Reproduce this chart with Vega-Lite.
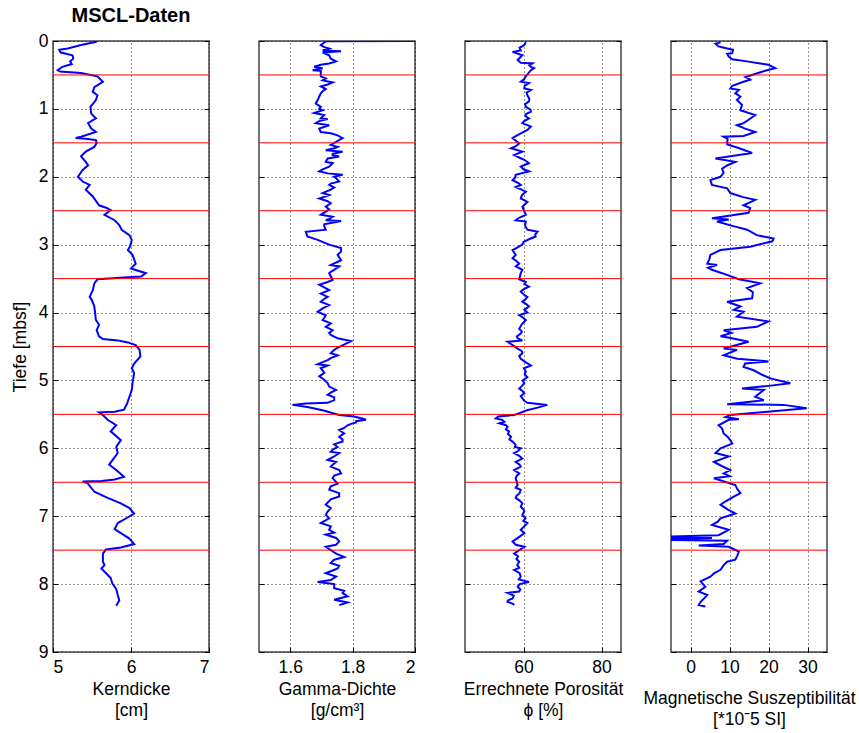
{
  "$schema": "https://vega.github.io/schema/vega-lite/v6.json",
  "padding": {"left": 10, "top": 5, "right": 0, "bottom": 5},
  "bounds": "flush",
  "spacing": 50,
  "background": "white",
  "config": {
    "font": "Liberation Sans",
    "axis": {"labelFont": "Liberation Sans", "titleFont": "Liberation Sans", "labelFontSize": 17.5, "titleFontSize": 17.5, "labelColor": "#000", "titleColor": "#000", "titleFontWeight": "normal", "domain": false, "gridColor": "#000", "gridDash": [1, 3], "gridOpacity": 0.85, "gridWidth": 1, "ticks": true, "tickSize": -5, "tickColor": "#000", "tickWidth": 1},
    "view": {"stroke": "#444", "strokeWidth": 1.5}
  },
  "datasets": {
    "H": [{"d": 0.5}, {"d": 1.5}, {"d": 2.5}, {"d": 3.5}, {"d": 4.5}, {"d": 5.5}, {"d": 6.5}, {"d": 7.5}],
    "K": [
      {"d":0.01,"v":5.56},{"d":0.06,"v":5.36},{"d":0.11,"v":5.19},{"d":0.13,"v":5.08},{"d":0.17,"v":5.10},{"d":0.21,"v":5.25},{"d":0.26,"v":5.26},{"d":0.30,"v":5.22},{"d":0.34,"v":5.24},{"d":0.38,"v":5.12},{"d":0.43,"v":5.06},{"d":0.45,"v":5.09},{"d":0.47,"v":5.36},{"d":0.52,"v":5.57},{"d":0.60,"v":5.64},{"d":0.68,"v":5.53},{"d":0.75,"v":5.51},{"d":0.80,"v":5.57},{"d":0.87,"v":5.55},{"d":0.97,"v":5.48},{"d":1.07,"v":5.49},{"d":1.14,"v":5.55},{"d":1.21,"v":5.45},{"d":1.29,"v":5.49},{"d":1.34,"v":5.55},{"d":1.41,"v":5.36},{"d":1.43,"v":5.29},{"d":1.44,"v":5.42},{"d":1.46,"v":5.55},{"d":1.50,"v":5.56},{"d":1.56,"v":5.53},{"d":1.63,"v":5.42},{"d":1.70,"v":5.36},{"d":1.78,"v":5.42},{"d":1.83,"v":5.45},{"d":1.90,"v":5.38},{"d":2.00,"v":5.32},{"d":2.07,"v":5.38},{"d":2.12,"v":5.47},{"d":2.19,"v":5.42},{"d":2.29,"v":5.51},{"d":2.42,"v":5.59},{"d":2.46,"v":5.69},{"d":2.49,"v":5.74},{"d":2.56,"v":5.66},{"d":2.64,"v":5.79},{"d":2.71,"v":5.85},{"d":2.78,"v":5.88},{"d":2.86,"v":5.98},{"d":2.93,"v":6.01},{"d":3.02,"v":5.99},{"d":3.08,"v":5.96},{"d":3.15,"v":6.02},{"d":3.28,"v":6.06},{"d":3.35,"v":6.00},{"d":3.42,"v":6.19},{"d":3.47,"v":6.13},{"d":3.48,"v":5.96},{"d":3.51,"v":5.57},{"d":3.57,"v":5.53},{"d":3.67,"v":5.51},{"d":3.77,"v":5.47},{"d":3.82,"v":5.50},{"d":3.91,"v":5.53},{"d":4.01,"v":5.54},{"d":4.11,"v":5.55},{"d":4.18,"v":5.59},{"d":4.26,"v":5.56},{"d":4.35,"v":5.59},{"d":4.39,"v":5.64},{"d":4.41,"v":5.83},{"d":4.44,"v":5.96},{"d":4.48,"v":6.06},{"d":4.55,"v":6.11},{"d":4.65,"v":6.12},{"d":4.75,"v":6.04},{"d":4.82,"v":6.01},{"d":4.89,"v":6.04},{"d":5.04,"v":6.02},{"d":5.14,"v":6.01},{"d":5.24,"v":5.98},{"d":5.34,"v":5.95},{"d":5.43,"v":5.91},{"d":5.46,"v":5.79},{"d":5.47,"v":5.59},{"d":5.51,"v":5.64},{"d":5.58,"v":5.70},{"d":5.66,"v":5.81},{"d":5.75,"v":5.74},{"d":5.88,"v":5.87},{"d":5.98,"v":5.81},{"d":6.07,"v":5.83},{"d":6.24,"v":5.72},{"d":6.32,"v":5.81},{"d":6.42,"v":5.91},{"d":6.46,"v":5.79},{"d":6.48,"v":5.62},{"d":6.49,"v":5.38},{"d":6.51,"v":5.44},{"d":6.64,"v":5.53},{"d":6.73,"v":5.70},{"d":6.81,"v":5.87},{"d":6.88,"v":5.98},{"d":6.96,"v":6.04},{"d":7.03,"v":5.94},{"d":7.10,"v":5.83},{"d":7.19,"v":5.79},{"d":7.25,"v":5.87},{"d":7.33,"v":5.98},{"d":7.41,"v":6.04},{"d":7.46,"v":5.87},{"d":7.49,"v":5.68},{"d":7.55,"v":5.64},{"d":7.67,"v":5.64},{"d":7.72,"v":5.66},{"d":7.77,"v":5.62},{"d":7.84,"v":5.68},{"d":7.91,"v":5.74},{"d":7.99,"v":5.76},{"d":8.07,"v":5.81},{"d":8.16,"v":5.83},{"d":8.24,"v":5.85},{"d":8.32,"v":5.81}
    ],
    "G": [
      {"d":0.00,"v":2.0},{"d":0.005,"v":1.714},{"d":0.06,"v":1.698},{"d":0.09,"v":1.709},{"d":0.11,"v":1.725},{"d":0.14,"v":1.704},{"d":0.15,"v":1.763},{"d":0.17,"v":1.704},{"d":0.21,"v":1.725},{"d":0.26,"v":1.730},{"d":0.30,"v":1.747},{"d":0.33,"v":1.725},{"d":0.35,"v":1.698},{"d":0.38,"v":1.677},{"d":0.40,"v":1.704},{"d":0.43,"v":1.672},{"d":0.44,"v":1.698},
      {"d":0.52,"v":1.698},{"d":0.55,"v":1.714},{"d":0.58,"v":1.704},{"d":0.61,"v":1.736},{"d":0.64,"v":1.720},{"d":0.67,"v":1.698},{"d":0.71,"v":1.714},{"d":0.74,"v":1.704},{"d":0.77,"v":1.698},{"d":0.82,"v":1.693},{"d":0.87,"v":1.688},{"d":0.92,"v":1.682},{"d":0.97,"v":1.698},{"d":1.00,"v":1.693},{"d":1.02,"v":1.704},{"d":1.06,"v":1.677},{"d":1.09,"v":1.709},{"d":1.14,"v":1.698},{"d":1.15,"v":1.720},{"d":1.18,"v":1.693},{"d":1.21,"v":1.682},{"d":1.24,"v":1.725},{"d":1.29,"v":1.693},{"d":1.34,"v":1.698},{"d":1.36,"v":1.730},{"d":1.39,"v":1.752},{"d":1.42,"v":1.763},{"d":1.43,"v":1.768},
      {"d":1.53,"v":1.730},{"d":1.56,"v":1.752},{"d":1.58,"v":1.741},{"d":1.61,"v":1.714},{"d":1.63,"v":1.768},{"d":1.66,"v":1.736},{"d":1.68,"v":1.736},{"d":1.70,"v":1.757},{"d":1.73,"v":1.720},{"d":1.78,"v":1.714},{"d":1.80,"v":1.736},{"d":1.85,"v":1.725},{"d":1.89,"v":1.704},{"d":1.92,"v":1.693},{"d":1.95,"v":1.720},{"d":1.97,"v":1.768},{"d":2.00,"v":1.741},{"d":2.02,"v":1.747},{"d":2.07,"v":1.757},{"d":2.10,"v":1.730},{"d":2.12,"v":1.725},{"d":2.16,"v":1.741},{"d":2.19,"v":1.730},{"d":2.24,"v":1.704},{"d":2.27,"v":1.725},{"d":2.32,"v":1.693},{"d":2.36,"v":1.720},{"d":2.39,"v":1.730},{"d":2.44,"v":1.714},{"d":2.48,"v":1.725},
      {"d":2.56,"v":1.698},{"d":2.59,"v":1.736},{"d":2.62,"v":1.725},{"d":2.64,"v":1.714},{"d":2.65,"v":1.763},{"d":2.70,"v":1.709},{"d":2.73,"v":1.709},{"d":2.78,"v":1.714},{"d":2.81,"v":1.650},{"d":2.88,"v":1.655},{"d":2.93,"v":1.688},{"d":3.00,"v":1.725},{"d":3.05,"v":1.763},{"d":3.10,"v":1.763},{"d":3.15,"v":1.752},{"d":3.23,"v":1.763},{"d":3.30,"v":1.730},{"d":3.32,"v":1.757},{"d":3.37,"v":1.741},{"d":3.40,"v":1.730},{"d":3.42,"v":1.725},
      {"d":3.52,"v":1.736},{"d":3.55,"v":1.720},{"d":3.59,"v":1.693},{"d":3.63,"v":1.709},{"d":3.67,"v":1.725},{"d":3.72,"v":1.698},{"d":3.77,"v":1.720},{"d":3.80,"v":1.709},{"d":3.84,"v":1.698},{"d":3.89,"v":1.725},{"d":3.94,"v":1.704},{"d":3.99,"v":1.688},{"d":4.04,"v":1.714},{"d":4.08,"v":1.709},{"d":4.11,"v":1.704},{"d":4.16,"v":1.730},{"d":4.21,"v":1.714},{"d":4.26,"v":1.736},{"d":4.30,"v":1.725},{"d":4.33,"v":1.730},{"d":4.38,"v":1.752},{"d":4.42,"v":1.795},
      {"d":4.53,"v":1.747},{"d":4.57,"v":1.736},{"d":4.60,"v":1.730},{"d":4.63,"v":1.752},{"d":4.67,"v":1.730},{"d":4.70,"v":1.720},{"d":4.76,"v":1.688},{"d":4.78,"v":1.720},{"d":4.82,"v":1.698},{"d":4.85,"v":1.704},{"d":4.89,"v":1.709},{"d":4.94,"v":1.693},{"d":4.99,"v":1.709},{"d":5.04,"v":1.720},{"d":5.09,"v":1.725},{"d":5.14,"v":1.747},{"d":5.18,"v":1.730},{"d":5.21,"v":1.720},{"d":5.25,"v":1.741},{"d":5.29,"v":1.741},{"d":5.33,"v":1.720},{"d":5.34,"v":1.650},{"d":5.36,"v":1.607},{"d":5.39,"v":1.655},{"d":5.44,"v":1.704},
      {"d":5.51,"v":1.757},{"d":5.53,"v":1.805},{"d":5.56,"v":1.830},{"d":5.58,"v":1.843},{"d":5.60,"v":1.811},{"d":5.62,"v":1.811},{"d":5.64,"v":1.795},{"d":5.66,"v":1.784},{"d":5.70,"v":1.773},{"d":5.73,"v":1.757},{"d":5.78,"v":1.773},{"d":5.83,"v":1.757},{"d":5.87,"v":1.768},{"d":5.90,"v":1.768},{"d":5.94,"v":1.741},{"d":5.98,"v":1.752},{"d":6.02,"v":1.736},{"d":6.05,"v":1.730},{"d":6.07,"v":1.757},{"d":6.12,"v":1.741},{"d":6.17,"v":1.720},{"d":6.20,"v":1.747},{"d":6.24,"v":1.736},{"d":6.27,"v":1.730},{"d":6.32,"v":1.757},{"d":6.37,"v":1.763},{"d":6.40,"v":1.741},{"d":6.44,"v":1.736},
      {"d":6.52,"v":1.752},{"d":6.56,"v":1.730},{"d":6.61,"v":1.725},{"d":6.66,"v":1.757},{"d":6.71,"v":1.757},{"d":6.75,"v":1.730},{"d":6.80,"v":1.720},{"d":6.83,"v":1.714},{"d":6.88,"v":1.730},{"d":6.93,"v":1.720},{"d":6.98,"v":1.714},{"d":7.03,"v":1.725},{"d":7.10,"v":1.698},{"d":7.15,"v":1.730},{"d":7.20,"v":1.725},{"d":7.24,"v":1.741},{"d":7.27,"v":1.714},{"d":7.32,"v":1.747},{"d":7.37,"v":1.757},{"d":7.42,"v":1.747},{"d":7.45,"v":1.714},
      {"d":7.55,"v":1.747},{"d":7.60,"v":1.773},{"d":7.64,"v":1.741},{"d":7.69,"v":1.730},{"d":7.73,"v":1.757},{"d":7.77,"v":1.752},{"d":7.80,"v":1.736},{"d":7.84,"v":1.714},{"d":7.89,"v":1.747},{"d":7.94,"v":1.730},{"d":7.97,"v":1.688},{"d":8.00,"v":1.741},{"d":8.06,"v":1.741},{"d":8.10,"v":1.773},{"d":8.13,"v":1.768},{"d":8.18,"v":1.784},{"d":8.23,"v":1.741},{"d":8.27,"v":1.784},{"d":8.31,"v":1.757}
    ],
    "P": [
      {"d":0.02,"v":60.6},{"d":0.06,"v":60.2},{"d":0.10,"v":59.0},{"d":0.14,"v":59.3},{"d":0.16,"v":57.2},{"d":0.21,"v":59.7},{"d":0.25,"v":59.0},{"d":0.28,"v":58.5},{"d":0.32,"v":59.3},{"d":0.33,"v":62.3},{"d":0.36,"v":61.5},{"d":0.38,"v":61.9},{"d":0.40,"v":62.7},{"d":0.43,"v":61.9},
      {"d":0.52,"v":60.6},{"d":0.56,"v":60.2},{"d":0.60,"v":59.3},{"d":0.62,"v":61.4},{"d":0.66,"v":60.3},{"d":0.70,"v":60.2},{"d":0.72,"v":61.9},{"d":0.76,"v":60.8},{"d":0.80,"v":61.0},{"d":0.85,"v":61.5},{"d":0.89,"v":61.4},{"d":0.93,"v":60.4},{"d":0.97,"v":60.6},{"d":1.01,"v":61.8},{"d":1.04,"v":61.9},{"d":1.08,"v":60.5},{"d":1.11,"v":60.6},{"d":1.14,"v":61.4},{"d":1.18,"v":60.2},{"d":1.21,"v":59.7},{"d":1.26,"v":61.9},{"d":1.31,"v":61.0},{"d":1.36,"v":59.3},{"d":1.40,"v":58.0},{"d":1.43,"v":57.2},
      {"d":1.51,"v":58.9},{"d":1.55,"v":58.0},{"d":1.58,"v":56.8},{"d":1.63,"v":59.7},{"d":1.68,"v":57.6},{"d":1.72,"v":59.0},{"d":1.75,"v":60.2},{"d":1.80,"v":61.4},{"d":1.85,"v":59.3},{"d":1.89,"v":60.0},{"d":1.92,"v":61.4},{"d":1.97,"v":58.0},{"d":2.01,"v":57.9},{"d":2.05,"v":57.2},{"d":2.09,"v":58.6},{"d":2.12,"v":59.3},{"d":2.15,"v":58.0},{"d":2.19,"v":59.5},{"d":2.22,"v":60.6},{"d":2.27,"v":59.6},{"d":2.32,"v":59.3},{"d":2.37,"v":61.0},{"d":2.44,"v":59.7},
      {"d":2.56,"v":60.6},{"d":2.60,"v":59.0},{"d":2.64,"v":58.0},{"d":2.66,"v":60.6},{"d":2.72,"v":60.4},{"d":2.78,"v":61.0},{"d":2.81,"v":63.6},{"d":2.85,"v":63.0},{"d":2.88,"v":63.1},{"d":2.92,"v":61.4},{"d":2.96,"v":60.0},{"d":3.00,"v":59.7},{"d":3.04,"v":58.5},{"d":3.08,"v":57.2},{"d":3.15,"v":58.0},{"d":3.20,"v":57.2},{"d":3.24,"v":58.2},{"d":3.28,"v":58.9},{"d":3.32,"v":58.0},{"d":3.37,"v":59.7},{"d":3.42,"v":59.3},
      {"d":3.51,"v":58.9},{"d":3.55,"v":60.6},{"d":3.58,"v":60.2},{"d":3.62,"v":61.4},{"d":3.66,"v":60.0},{"d":3.69,"v":59.3},{"d":3.73,"v":60.0},{"d":3.77,"v":61.0},{"d":3.81,"v":60.4},{"d":3.84,"v":59.7},{"d":3.88,"v":60.8},{"d":3.91,"v":61.4},{"d":3.96,"v":60.2},{"d":4.00,"v":61.0},{"d":4.04,"v":58.9},{"d":4.08,"v":60.0},{"d":4.11,"v":60.6},{"d":4.17,"v":59.6},{"d":4.24,"v":58.9},{"d":4.28,"v":59.6},{"d":4.31,"v":59.3},{"d":4.35,"v":58.3},{"d":4.38,"v":58.5},{"d":4.41,"v":59.7},{"d":4.43,"v":55.9},
      {"d":4.53,"v":58.5},{"d":4.57,"v":59.6},{"d":4.60,"v":59.7},{"d":4.64,"v":58.9},{"d":4.68,"v":59.3},{"d":4.73,"v":60.5},{"d":4.78,"v":61.9},{"d":4.82,"v":60.1},{"d":4.87,"v":60.6},{"d":4.91,"v":60.3},{"d":4.95,"v":61.0},{"d":5.00,"v":59.8},{"d":5.04,"v":60.2},{"d":5.08,"v":59.6},{"d":5.12,"v":58.9},{"d":5.16,"v":59.8},{"d":5.19,"v":60.2},{"d":5.23,"v":59.3},{"d":5.26,"v":59.7},{"d":5.30,"v":60.2},{"d":5.33,"v":61.0},{"d":5.36,"v":66.1},{"d":5.40,"v":63.6},{"d":5.44,"v":60.9},
      {"d":5.51,"v":57.6},{"d":5.53,"v":53.5},{"d":5.56,"v":52.9},{"d":5.58,"v":54.5},{"d":5.61,"v":55.1},{"d":5.63,"v":53.8},{"d":5.66,"v":55.5},{"d":5.68,"v":55.9},{"d":5.72,"v":55.5},{"d":5.75,"v":56.3},{"d":5.79,"v":56.0},{"d":5.83,"v":56.8},{"d":5.87,"v":56.4},{"d":5.90,"v":57.2},{"d":5.95,"v":58.0},{"d":5.98,"v":57.8},{"d":6.00,"v":59.3},{"d":6.04,"v":58.6},{"d":6.07,"v":57.6},{"d":6.11,"v":58.9},{"d":6.15,"v":59.7},{"d":6.20,"v":58.0},{"d":6.24,"v":59.0},{"d":6.27,"v":59.3},{"d":6.32,"v":57.6},{"d":6.37,"v":58.9},{"d":6.41,"v":58.2},{"d":6.44,"v":58.0},
      {"d":6.54,"v":58.5},{"d":6.58,"v":58.0},{"d":6.61,"v":59.3},{"d":6.66,"v":59.0},{"d":6.70,"v":58.2},{"d":6.73,"v":58.0},{"d":6.77,"v":59.0},{"d":6.81,"v":59.7},{"d":6.86,"v":59.3},{"d":6.90,"v":60.0},{"d":6.93,"v":60.2},{"d":6.98,"v":59.7},{"d":7.03,"v":60.5},{"d":7.07,"v":60.0},{"d":7.10,"v":61.0},{"d":7.15,"v":60.2},{"d":7.20,"v":59.3},{"d":7.25,"v":60.2},{"d":7.30,"v":59.0},{"d":7.34,"v":58.0},{"d":7.37,"v":57.2},{"d":7.42,"v":58.0},{"d":7.45,"v":60.2},
      {"d":7.55,"v":57.6},{"d":7.59,"v":58.6},{"d":7.63,"v":58.2},{"d":7.67,"v":58.9},{"d":7.72,"v":58.4},{"d":7.76,"v":58.9},{"d":7.79,"v":57.6},{"d":7.84,"v":59.0},{"d":7.89,"v":59.3},{"d":7.93,"v":58.8},{"d":7.97,"v":61.4},{"d":8.00,"v":59.0},{"d":8.04,"v":58.5},{"d":8.08,"v":59.2},{"d":8.11,"v":58.9},{"d":8.13,"v":55.9},{"d":8.17,"v":57.5},{"d":8.21,"v":57.2},{"d":8.24,"v":56.0},{"d":8.26,"v":55.9},{"d":8.29,"v":57.3},{"d":8.31,"v":57.6}
    ],
    "M": [
      {"d":0.02,"v":7.7},{"d":0.04,"v":6.4},{"d":0.08,"v":7.2},{"d":0.11,"v":9.4},{"d":0.13,"v":10.9},{"d":0.18,"v":10.7},{"d":0.19,"v":9.4},{"d":0.23,"v":9.8},{"d":0.27,"v":10.7},{"d":0.30,"v":14.5},{"d":0.33,"v":17.9},{"d":0.35,"v":20.0},{"d":0.40,"v":21.7},{"d":0.43,"v":19.6},
      {"d":0.53,"v":14.1},{"d":0.57,"v":15.3},{"d":0.60,"v":13.6},{"d":0.66,"v":10.7},{"d":0.70,"v":10.2},{"d":0.72,"v":12.4},{"d":0.77,"v":11.5},{"d":0.82,"v":12.8},{"d":0.87,"v":11.9},{"d":0.94,"v":13.2},{"d":1.02,"v":12.8},{"d":1.09,"v":16.6},{"d":1.16,"v":14.9},{"d":1.21,"v":13.6},{"d":1.24,"v":11.9},{"d":1.29,"v":14.0},{"d":1.34,"v":16.6},{"d":1.40,"v":13.6},{"d":1.41,"v":8.5},{"d":1.44,"v":9.5},
      {"d":1.52,"v":9.4},{"d":1.58,"v":12.5},{"d":1.65,"v":15.8},{"d":1.73,"v":6.4},{"d":1.78,"v":11.5},{"d":1.83,"v":9.5},{"d":1.88,"v":8.1},{"d":1.94,"v":8.5},{"d":2.00,"v":7.7},{"d":2.05,"v":5.1},{"d":2.12,"v":5.5},{"d":2.17,"v":9.4},{"d":2.24,"v":10.2},{"d":2.30,"v":13.5},{"d":2.34,"v":16.6},{"d":2.42,"v":13.6},{"d":2.46,"v":15.3},
      {"d":2.53,"v":14.9},{"d":2.58,"v":9.0},{"d":2.61,"v":5.5},{"d":2.63,"v":9.8},{"d":2.66,"v":6.8},{"d":2.72,"v":10.5},{"d":2.78,"v":14.5},{"d":2.86,"v":17.0},{"d":2.91,"v":21.3},{"d":2.95,"v":21.0},{"d":3.03,"v":15.3},{"d":3.08,"v":7.7},{"d":3.15,"v":5.1},{"d":3.22,"v":4.8},{"d":3.28,"v":4.3},{"d":3.30,"v":6.8},{"d":3.34,"v":4.5},{"d":3.37,"v":5.5},{"d":3.42,"v":8.1},
      {"d":3.51,"v":12.4},{"d":3.57,"v":17.9},{"d":3.64,"v":14.5},{"d":3.70,"v":16.0},{"d":3.79,"v":15.8},{"d":3.84,"v":9.4},{"d":3.91,"v":12.8},{"d":3.96,"v":11.1},{"d":3.99,"v":13.6},{"d":4.06,"v":11.9},{"d":4.13,"v":20.0},{"d":4.21,"v":17.0},{"d":4.26,"v":8.5},{"d":4.30,"v":10.5},{"d":4.35,"v":7.7},{"d":4.37,"v":10.0},{"d":4.43,"v":14.9},
      {"d":4.53,"v":8.5},{"d":4.55,"v":11.9},{"d":4.63,"v":8.5},{"d":4.68,"v":12.0},{"d":4.72,"v":20.0},{"d":4.75,"v":14.0},{"d":4.80,"v":13.6},{"d":4.85,"v":16.2},{"d":4.92,"v":18.5},{"d":4.97,"v":20.5},{"d":5.04,"v":25.6},{"d":5.08,"v":20.0},{"d":5.12,"v":13.2},{"d":5.14,"v":18.8},{"d":5.20,"v":17.5},{"d":5.24,"v":16.6},{"d":5.29,"v":18.8},{"d":5.35,"v":9.4},{"d":5.36,"v":23.9},{"d":5.41,"v":29.8},
      {"d":5.51,"v":10.2},{"d":5.54,"v":9.0},{"d":5.57,"v":12.4},{"d":5.58,"v":9.8},{"d":5.66,"v":7.2},{"d":5.71,"v":8.1},{"d":5.78,"v":8.5},{"d":5.83,"v":9.5},{"d":5.88,"v":10.2},{"d":5.93,"v":10.7},{"d":6.00,"v":7.7},{"d":6.07,"v":6.4},{"d":6.12,"v":9.8},{"d":6.20,"v":6.0},{"d":6.26,"v":8.0},{"d":6.32,"v":10.2},{"d":6.37,"v":8.5},{"d":6.41,"v":10.0},{"d":6.44,"v":6.0},
      {"d":6.54,"v":11.5},{"d":6.60,"v":12.0},{"d":6.66,"v":12.8},{"d":6.71,"v":11.1},{"d":6.78,"v":9.0},{"d":6.83,"v":7.7},{"d":6.90,"v":9.5},{"d":6.96,"v":11.5},{"d":7.03,"v":7.7},{"d":7.08,"v":7.0},{"d":7.13,"v":5.5},{"d":7.20,"v":9.8},{"d":7.28,"v":7.2},{"d":7.30,"v":-5.0},{"d":7.31,"v":-5.0},{"d":7.32,"v":5.5},{"d":7.34,"v":-5.0},{"d":7.35,"v":-5.0},{"d":7.36,"v":9.4},{"d":7.41,"v":8.5},{"d":7.43,"v":2.1},{"d":7.45,"v":9.8},
      {"d":7.52,"v":12.4},{"d":7.58,"v":12.0},{"d":7.64,"v":11.5},{"d":7.67,"v":9.4},{"d":7.72,"v":8.5},{"d":7.79,"v":7.7},{"d":7.84,"v":6.0},{"d":7.89,"v":5.1},{"d":7.96,"v":2.6},{"d":8.04,"v":3.8},{"d":8.11,"v":2.1},{"d":8.16,"v":4.3},{"d":8.21,"v":3.5},{"d":8.26,"v":2.6},{"d":8.31,"v":2.1},{"d":8.33,"v":3.8}
    ]
  },
  "hconcat": [
    {
      "width": 156, "height": 611,
      "title": {"text": "MSCL-Daten", "fontSize": 20, "fontWeight": "bold", "font": "Liberation Sans", "offset": 6, "anchor": "middle", "color": "#000"},
      "resolve": {"axis": {"y": "independent"}},
      "layer": [
        {"data": {"name": "K"}, "mark": {"type": "line", "color": "#0000ff", "strokeWidth": 2, "clip": true},
         "encoding": {
           "x": {"field": "v", "type": "quantitative", "scale": {"domain": [5, 7], "nice": false, "zero": false},
                 "axis": {"values": [5, 6, 7], "labelExpr": "datum.value", "labelPadding": 11, "title": ["Kerndicke", "[cm]"], "titlePadding": 5, "titleLineHeight": 21}},
           "y": {"field": "d", "type": "quantitative", "scale": {"domain": [0, 9], "reverse": true, "nice": false, "zero": false},
                 "axis": {"values": [0,1,2,3,4,5,6,7,8,9], "labelExpr": "datum.value", "labelPadding": 10, "title": "Tiefe [mbsf]", "titlePadding": 9}},
           "order": {"field": "d"}}},
        {"data": {"name": "H"}, "mark": {"type": "rule", "color": "#ff0000", "strokeWidth": 1},
         "encoding": {"y": {"field": "d", "type": "quantitative", "axis": {"orient": "right", "values": [0,1,2,3,4,5,6,7,8,9], "labels": false, "grid": false, "title": null}}}}
      ]
    },
    {
      "width": 156, "height": 611,
      "resolve": {"axis": {"y": "independent"}},
      "layer": [
        {"data": {"name": "G"}, "mark": {"type": "line", "color": "#0000ff", "strokeWidth": 2, "clip": true},
         "encoding": {
           "x": {"field": "v", "type": "quantitative", "scale": {"domain": [1.5, 2], "nice": false, "zero": false},
                 "axis": {"values": [1.6, 1.8, 2], "labelExpr": "datum.value", "labelPadding": 11, "title": ["Gamma-Dichte", "[g/cm³]"], "titlePadding": 5, "titleLineHeight": 21}},
           "y": {"field": "d", "type": "quantitative", "scale": {"domain": [0, 9], "reverse": true, "nice": false, "zero": false},
                 "axis": {"values": [0,1,2,3,4,5,6,7,8,9], "labels": false, "title": null}},
           "order": {"field": "d"}}},
        {"data": {"name": "H"}, "mark": {"type": "rule", "color": "#ff0000", "strokeWidth": 1},
         "encoding": {"y": {"field": "d", "type": "quantitative", "axis": {"orient": "right", "values": [0,1,2,3,4,5,6,7,8,9], "labels": false, "grid": false, "title": null}}}}
      ]
    },
    {
      "width": 156, "height": 611,
      "resolve": {"axis": {"y": "independent"}},
      "layer": [
        {"data": {"name": "P"}, "mark": {"type": "line", "color": "#0000ff", "strokeWidth": 2, "clip": true},
         "encoding": {
           "x": {"field": "v", "type": "quantitative", "scale": {"domain": [45, 85], "nice": false, "zero": false},
                 "axis": {"values": [60, 80], "labelExpr": "datum.value", "labelPadding": 11, "title": ["Errechnete Porosität", "ϕ [%]"], "titlePadding": 5, "titleLineHeight": 21}},
           "y": {"field": "d", "type": "quantitative", "scale": {"domain": [0, 9], "reverse": true, "nice": false, "zero": false},
                 "axis": {"values": [0,1,2,3,4,5,6,7,8,9], "labels": false, "title": null}},
           "order": {"field": "d"}}},
        {"data": {"name": "H"}, "mark": {"type": "rule", "color": "#ff0000", "strokeWidth": 1},
         "encoding": {"y": {"field": "d", "type": "quantitative", "axis": {"orient": "right", "values": [0,1,2,3,4,5,6,7,8,9], "labels": false, "grid": false, "title": null}}}}
      ]
    },
    {
      "width": 156, "height": 611,
      "resolve": {"axis": {"y": "independent"}},
      "layer": [
        {"data": {"name": "M"}, "mark": {"type": "line", "color": "#0000ff", "strokeWidth": 2, "clip": true},
         "encoding": {
           "x": {"field": "v", "type": "quantitative", "scale": {"domain": [-5, 35], "nice": false, "zero": false},
                 "axis": {"values": [0, 10, 20, 30], "labelExpr": "datum.value", "labelPadding": 11, "title": ["Magnetische Suszeptibilität", "[*10ˉ5 SI]"], "titlePadding": 14, "titleLineHeight": 21}},
           "y": {"field": "d", "type": "quantitative", "scale": {"domain": [0, 9], "reverse": true, "nice": false, "zero": false},
                 "axis": {"values": [0,1,2,3,4,5,6,7,8,9], "labels": false, "title": null}},
           "order": {"field": "d"}}},
        {"data": {"name": "H"}, "mark": {"type": "rule", "color": "#ff0000", "strokeWidth": 1},
         "encoding": {"y": {"field": "d", "type": "quantitative", "axis": {"orient": "right", "values": [0,1,2,3,4,5,6,7,8,9], "labels": false, "grid": false, "title": null}}}}
      ]
    }
  ]
}
